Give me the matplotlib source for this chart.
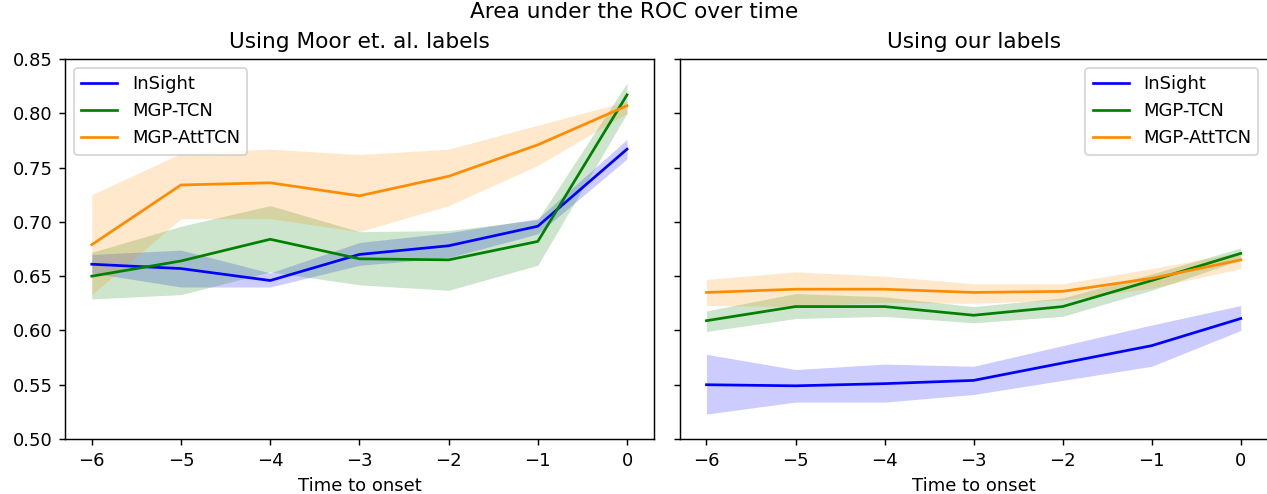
import numpy as np
import matplotlib
matplotlib.use("Agg")
import matplotlib.pyplot as plt

hours = [-6, -5, -4, -3, -2, -1, 0]
models = ['InSight', 'MGP-TCN', 'MGP-AttTCN']
colors = ['blue', 'green', 'darkorange']

# Moor et. al. labels
moor_mean = {
    'InSight':    [0.661, 0.657, 0.646, 0.670, 0.678, 0.696, 0.767],
    'MGP-TCN':    [0.650, 0.664, 0.684, 0.666, 0.665, 0.682, 0.817],
    'MGP-AttTCN': [0.679, 0.734, 0.736, 0.724, 0.742, 0.771, 0.807],
}
moor_low = {
    'InSight':    [0.653, 0.640, 0.640, 0.660, 0.667, 0.689, 0.758],
    'MGP-TCN':    [0.629, 0.633, 0.654, 0.642, 0.637, 0.660, 0.800],
    'MGP-AttTCN': [0.633, 0.703, 0.703, 0.691, 0.715, 0.752, 0.800],
}
moor_high = {
    'InSight':    [0.670, 0.674, 0.653, 0.681, 0.690, 0.703, 0.776],
    'MGP-TCN':    [0.672, 0.696, 0.715, 0.691, 0.692, 0.702, 0.828],
    'MGP-AttTCN': [0.725, 0.763, 0.767, 0.762, 0.767, 0.789, 0.811],
}

# our labels
ours_mean = {
    'InSight':    [0.550, 0.549, 0.551, 0.554, 0.570, 0.586, 0.611],
    'MGP-TCN':    [0.609, 0.622, 0.622, 0.614, 0.622, 0.646, 0.671],
    'MGP-AttTCN': [0.635, 0.638, 0.638, 0.635, 0.636, 0.648, 0.665],
}
ours_low = {
    'InSight':    [0.523, 0.534, 0.534, 0.541, 0.554, 0.567, 0.600],
    'MGP-TCN':    [0.599, 0.611, 0.613, 0.607, 0.613, 0.637, 0.665],
    'MGP-AttTCN': [0.623, 0.622, 0.626, 0.625, 0.628, 0.639, 0.657],
}
ours_high = {
    'InSight':    [0.578, 0.564, 0.569, 0.567, 0.586, 0.605, 0.623],
    'MGP-TCN':    [0.618, 0.634, 0.631, 0.622, 0.630, 0.652, 0.676],
    'MGP-AttTCN': [0.647, 0.654, 0.650, 0.643, 0.643, 0.657, 0.672],
}

fig = plt.figure(figsize=(9.75, 3.8), dpi=130)
ax1 = fig.add_axes([0.0513, 0.1113, 0.4645, 0.7692])
ax2 = fig.add_axes([0.5363, 0.1113, 0.4637, 0.7692], sharey=ax1)

panels = [
    (ax1, moor_mean, moor_low, moor_high, 'Using Moor et. al. labels', 'upper left'),
    (ax2, ours_mean, ours_low, ours_high, 'Using our labels', 'upper right'),
]
for ax, mean, low, high, title, loc in panels:
    for m, c in zip(models, colors):
        ax.plot(hours, mean[m], color=c, label=m)
        ax.fill_between(hours, low[m], high[m], color=c, alpha=0.2, linewidth=0)
    ax.set_title(title)
    ax.set_xlabel('Time to onset')
    ax.legend(loc=loc)

ax1.set_ylim(0.5, 0.85)
plt.setp(ax2.get_yticklabels(), visible=False)
fig.suptitle('Area under the ROC over time', y=0.995)

fig.savefig('out.png', dpi=130)
